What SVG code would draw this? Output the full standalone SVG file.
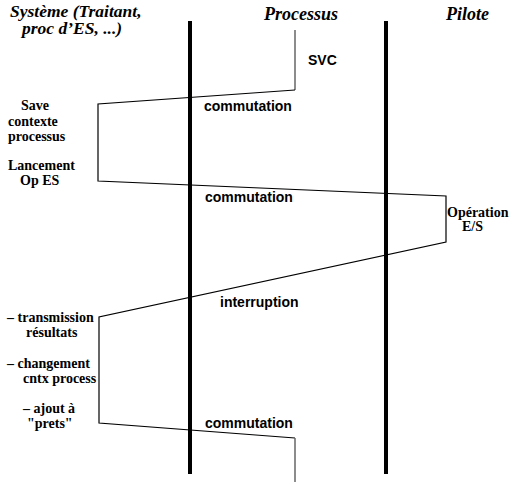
<svg xmlns="http://www.w3.org/2000/svg" width="510" height="482" viewBox="0 0 510 482">
  <style>
    .head { font-family: "Liberation Serif", "Times New Roman", serif; font-weight: bold; font-style: italic; font-size: 18px; fill: #000; }
    .title { font-size: 17.5px; }
    .note { font-family: "Liberation Serif", "Times New Roman", serif; font-weight: bold; font-size: 14px; fill: #000; }
    .evt  { font-family: "Liberation Sans", Arial, sans-serif; font-weight: bold; font-size: 14px; fill: #000; }
    .lane { stroke: #000; stroke-width: 4; fill: none; }
    .flow { stroke: #000; stroke-width: 1.2; fill: none; stroke-linejoin: miter; }
    .proc { stroke: #666; stroke-width: 1.5; fill: none; }
  </style>

  <rect width="510" height="482" fill="#fff"/>

  <!-- column headings -->
  <g id="col-systeme">
    <text class="head title" x="10" y="17">Système (Traitant,</text>
    <text class="head title" x="22" y="34">proc d’ES, ...)</text>
  </g>
  <g id="col-processus">
    <text class="head" x="264" y="20">Processus</text>
  </g>
  <g id="col-pilote">
    <text class="head" x="446" y="20">Pilote</text>
  </g>

  <!-- lane separators -->
  <g id="lanes">
    <line class="lane" x1="190" y1="21" x2="190" y2="474"/>
    <line class="lane" x1="386" y1="21" x2="386" y2="474"/>
  </g>

  <!-- execution thread -->
  <g id="connectors">
    <polyline class="proc" points="295,30 295,90"/>
    <polyline class="flow" points="295,90 98,104 98,181 446,196 446,242 99,317 99,423 295,438"/>
    <polyline class="proc" points="295,438 295,482"/>
  </g>

  <!-- events on the thread -->
  <g id="evt-svc"><text class="evt" x="308" y="65">SVC</text></g>
  <g id="evt-commutation-1"><text class="evt" x="204" y="111">commutation</text></g>
  <g id="evt-commutation-2"><text class="evt" x="205" y="202">commutation</text></g>
  <g id="evt-interruption"><text class="evt" x="220" y="307">interruption</text></g>
  <g id="evt-commutation-3"><text class="evt" x="205" y="428">commutation</text></g>

  <!-- system-side actions -->
  <g id="act-save">
    <text class="note" x="21" y="110">Save</text>
    <text class="note" x="8" y="126">contexte</text>
    <text class="note" x="8" y="141">processus</text>
  </g>
  <g id="act-lancement">
    <text class="note" x="8" y="170">Lancement</text>
    <text class="note" x="20" y="185">Op ES</text>
  </g>
  <g id="act-operation">
    <text class="note" x="447" y="217">Opération</text>
    <text class="note" x="462" y="231">E/S</text>
  </g>
  <g id="act-transmission">
    <text class="note" x="7" y="322">– transmission</text>
    <text class="note" x="26" y="337">résultats</text>
  </g>
  <g id="act-changement">
    <text class="note" x="7" y="368">– changement</text>
    <text class="note" x="23" y="383">cntx process</text>
  </g>
  <g id="act-ajout">
    <text class="note" x="23" y="413">– ajout à</text>
    <text class="note" x="27" y="428">"prets"</text>
  </g>
</svg>
